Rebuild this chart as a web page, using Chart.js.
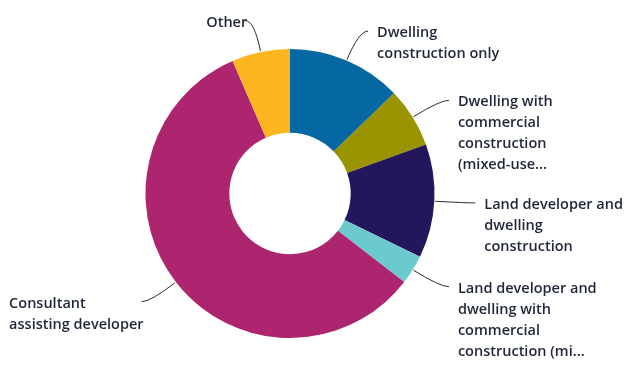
<!DOCTYPE html>
<html>
<head>
<meta charset="utf-8">
<script src="https://cdn.jsdelivr.net/npm/chart.js@4"></script>
<style>
  html, body { margin: 0; padding: 0; background: #fff; }
  #wrap { width: 626px; height: 365px; }
</style>
</head>
<body>
<div id="wrap"><canvas id="donut" width="626" height="365"></canvas></div>
<script>
// categories (already wrapped / shortened the way they are shown)
const categories = [
    ['Dwelling', 'construction only'],
    ['Dwelling with', 'commercial', 'construction', '(mixed-use...'],
    ['Land developer and', 'dwelling', 'construction'],
    ['Land developer and', 'dwelling with', 'commercial', 'construction (mi...'],
    ['Consultant', 'assisting developer'],
    ['Other']
];
// share of respondents, %
const shares = [12.8, 6.7, 12.7, 3.3, 58.0, 6.5];
const sliceColors = ['#0568a2', '#9a9300', '#23165c', '#6ccace', '#ad246f', '#fdb61f'];

// leader lines + wrapped labels outside each slice
const outsideLabels = {
    id: 'outsideLabels',
    afterDatasetsDraw(chart) {
        const c = chart.ctx;
        const meta = chart.getDatasetMeta(0);
        const labels = chart.data.labels;
        const lineH = 21;
        c.save();
        c.font = '600 14.5px "Open Sans"';
        c.textBaseline = 'middle';
        meta.data.forEach((arc, i) => {
            const mid = (arc.startAngle + arc.endAngle) / 2;
            const dx = Math.cos(mid), dy = Math.sin(mid);
            const r = arc.outerRadius;
            const sx = arc.x + dx * (r + 1), sy = arc.y + dy * (r + 1);
            const ex0 = arc.x + dx * (r + 32), ey = arc.y + dy * (r + 32);
            const right = dx >= 0;
            const ex = ex0 + (right ? 9 : -9);
            c.strokeStyle = '#2b2b2b';
            c.lineWidth = 1;
            c.beginPath();
            c.moveTo(sx, sy);
            c.quadraticCurveTo(ex0, ey, ex, ey);
            c.stroke();

            const lines = labels[i];
            const w = Math.max(...lines.map(t => c.measureText(t).width));
            const left = right ? ex + 9 : ex + 2 - w;
            c.fillStyle = '#1e2638';
            c.textAlign = 'left';
            lines.forEach((t, k) => c.fillText(t, left, ey + 2 + k * lineH));
        });
        c.restore();
    }
};

new Chart(document.getElementById('donut').getContext('2d'), {
    type: 'doughnut',
    data: {
        labels: categories,
        datasets: [{
            data: shares,
            backgroundColor: sliceColors,
            borderWidth: 0
        }]
    },
    options: {
        responsive: false,
        animation: false,
        cutout: '42%',
        layout: { padding: { top: 49, bottom: 27, left: 100, right: 146 } },
        events: [],
        plugins: {
            legend: { display: false },
            tooltip: { enabled: false }
        }
    },
    plugins: [outsideLabels]
});
</script>
</body>
</html>
